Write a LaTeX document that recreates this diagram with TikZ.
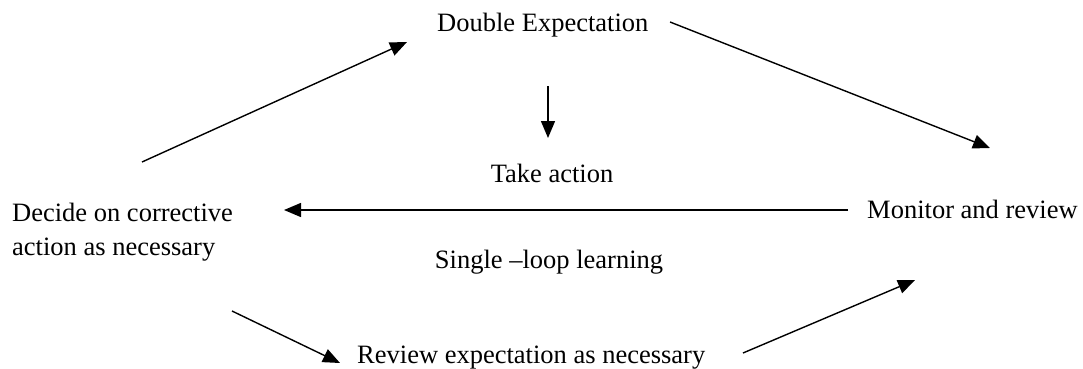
\documentclass[tikz,border=0pt]{standalone}
\usepackage{fontspec}
\setmainfont{Liberation Serif}
\usetikzlibrary{arrows.meta}

\begin{document}
\begin{tikzpicture}[x=1pt,y=-1pt,
  label/.style={inner sep=0pt, font=\fontsize{26.5}{34}\selectfont},
  flow/.style={line width=1.4pt, -{Triangle[length=17pt,width=14pt]}}]
  \useasboundingbox (0,0) rectangle (1083,369);

  % labels (multi-line node: base anchor sits on its last line)
  \node[label, anchor=base west] (dbl) at (437,32) {Double Expectation};
  \node[label, anchor=base] (take) at (552,182) {Take action};
  \node[label, anchor=base west] (mon) at (867,218) {Monitor and review};
  \node[label, anchor=base west, align=left] (dec) at (12,255)
    {Decide on corrective\\action as necessary};
  \node[label, anchor=base] (single) at (549,268) {Single –loop learning};
  \node[label, anchor=base west] (rev) at (357,363) {Review expectation as necessary};

  % arrow end points
  \coordinate (decTop) at (142,162);
  \coordinate (dblLeft) at (407,42);
  \coordinate (dblRight) at (670,22);
  \coordinate (monTop) at (990,148);
  \coordinate (dblBottom) at (548,86);
  \coordinate (takeTop) at (548,138);
  \coordinate (monLeft) at (848,210);
  \coordinate (decRight) at (284,210);
  \coordinate (decBottom) at (232,311);
  \coordinate (revLeft) at (340,363);
  \coordinate (revRight) at (743,353);
  \coordinate (monBottom) at (915,280);

  % connectors
  \draw[flow] (decTop) -- (dblLeft);
  \draw[flow] (dblRight) -- (monTop);
  \draw[flow] (dblBottom) -- (takeTop);
  \draw[flow] (monLeft) -- (decRight);
  \draw[flow] (decBottom) -- (revLeft);
  \draw[flow] (revRight) -- (monBottom);
\end{tikzpicture}
\end{document}
